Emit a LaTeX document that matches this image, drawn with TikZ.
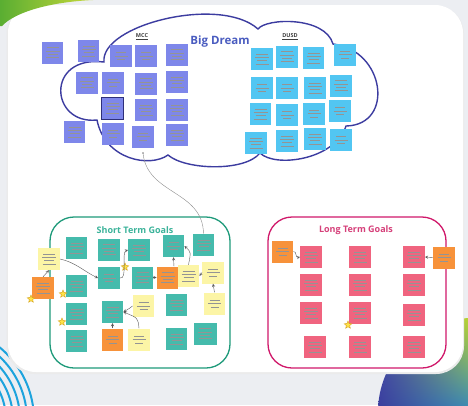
\documentclass[tikz,border=0pt]{standalone}
\usepackage{fontspec}
\setmainfont{Open Sans}
\usetikzlibrary{shapes.geometric,arrows,shadings}

\definecolor{bggray}{HTML}{ECEEF2}
\definecolor{mccblue}{HTML}{7E87EA}
\definecolor{mccdark}{HTML}{2E2F7A}
\definecolor{dusdblue}{HTML}{52C6F2}
\definecolor{cloudline}{HTML}{3C3CA0}
\definecolor{dreamblue}{HTML}{4A5CC0}
\definecolor{tealnote}{HTML}{45BBAC}
\definecolor{tealline}{HTML}{1E9A7A}
\definecolor{tealtitle}{HTML}{3BB39A}
\definecolor{orangenote}{HTML}{F7923A}
\definecolor{yellownote}{HTML}{FCF5A6}
\definecolor{pinknote}{HTML}{F0647F}
\definecolor{magline}{HTML}{D0186A}
\definecolor{magtitle}{HTML}{D6407A}
\definecolor{stargold}{HTML}{D4A017}
\definecolor{starfill}{HTML}{FFE34A}
\definecolor{blobindigo}{HTML}{3B3E9E}
\definecolor{blobblue}{HTML}{4650AE}
\definecolor{blobteal}{HTML}{3E8CB0}
\definecolor{blobgreen}{HTML}{B8D432}
\definecolor{arcblue}{HTML}{1DA3DD}
\definecolor{leafgreen}{HTML}{5AAE32}
\definecolor{leafyellow}{HTML}{C6D83A}

% blurred writing on the sticky notes
\newcommand\scribA{\rule{12pt}{.4pt}\\\rule{14pt}{.4pt}\\\rule{10pt}{.4pt}\\\rule{13pt}{.4pt}}
\newcommand\scribB{\rule{10pt}{.5pt}\\\rule{13pt}{.5pt}\\\rule{8pt}{.5pt}}

\tikzset{
  note/.style={minimum width=21.5pt, minimum height=22pt, inner sep=0pt,
    align=center, text=black!42, font=\fontsize{2.4}{3.3}\selectfont},
  mcc/.style={note, fill=mccblue},
  dusd/.style={note, fill=dusdblue},
  tnote/.style={note, fill=tealnote},
  onote/.style={note, fill=orangenote},
  ynote/.style={note, fill=yellownote},
  pnote/.style={note, fill=pinknote},
  goldstar/.style={star, star points=5, star point ratio=2.3, minimum size=8pt,
    inner sep=0pt, fill=starfill, draw=stargold, line width=.4pt},
  link/.style={->, >=stealth, draw=black!65, line width=.4pt},
  goalbox/.style={rounded corners=24pt, line width=1.3pt},
  title/.style={font=\fontsize{9}{9}\selectfont\bfseries}
}

\begin{document}
\begin{tikzpicture}[x=1pt, y=-1pt]
  \useasboundingbox (0,0) rectangle (468,405);
  \fill[bggray] (0,0) rectangle (468,405);

  % corner decorations
  \begin{scope}
    \clip (472,412) circle (94);
    \shade[upper left=blobblue, lower left=blobindigo, upper right=blobgreen,
      lower right=blobteal] (378,318) rectangle (468,405);
  \end{scope}
  \begin{scope}
    \clip (0,0) rectangle (468,405);
    \foreach \r in {94,87,80,73,66}
      \draw[arcblue, line width=2pt] (-60,420) circle (\r);
  \end{scope}

  % slide panel
  \fill[black!8, rounded corners=28pt] (6.5,6) rectangle (464,374);
  \fill[white, rounded corners=28pt] (8,5) rectangle (463,372);
  \shade[left color=leafgreen, right color=leafyellow]
    (0,0) -- (93,0) .. controls (50,2) and (15,12) .. (2,26) -- (0,26) -- cycle;

  % big dream cloud
  \draw[cloudline, line width=1.4pt]
    (104,62) .. controls (100,25) and (220,-5) .. (258,29)
    .. controls (266,18) and (325,16) .. (333,44)
    .. controls (385,50) and (395,125) .. (346,126)
    .. controls (335,160) and (275,168) .. (260,153)
    .. controls (245,172) and (185,170) .. (168,155)
    .. controls (150,168) and (105,160) .. (97,120)
    .. controls (50,125) and (45,55) .. (104,62) -- cycle;
  \node[text=dreamblue, font=\fontsize{11.5}{12}\selectfont\bfseries] (dream) at (220,42) {Big Dream};
  \node[font=\fontsize{5.5}{5.5}\selectfont\bfseries, text=black!75] (mcclab) at (142,37) {\underline{MCC}};
  \node[font=\fontsize{5.5}{5.5}\selectfont\bfseries, text=black!75] (dusdlab) at (290,37) {\underline{DUSD}};

  % MCC notes
  \node[mcc] (m1) at (52.5,52.5) {\scribA};
  \node[mcc] (m2) at (88.5,51) {\scribA};
  \node[mcc] (m3) at (74.5,132) {\scribA};
  \node[mcc] (m4) at (121,56) {\scribB};
  \node[mcc] (m5) at (146,56) {\scribB};
  \node[mcc] (m6) at (177,54.5) {\scribA};
  \node[mcc] (m7) at (87,82.5) {\scribA};
  \node[mcc] (m8) at (113,82.5) {\scribB};
  \node[mcc] (m9) at (146,83.5) {\scribA};
  \node[mcc] (m10) at (177,82) {\scribA};
  \node[mcc, draw=mccdark, line width=.9pt] (m11) at (112.5,108) {\scribA};
  \node[mcc] (m12) at (146,110) {\scribA};
  \node[mcc] (m13) at (177,110) {\scribA};
  \node[mcc] (m14) at (113,133.5) {\scribB};
  \node[mcc] (m15) at (143,136.5) {\scribB};
  \node[mcc] (m16) at (177,135) {\scribA};

  % DUSD notes
  \node[dusd] (d1) at (262,59) {\scribA};
  \node[dusd] (d2) at (287,56.5) {\scribA};
  \node[dusd] (d3) at (313.5,58) {\scribA};
  \node[dusd] (d4) at (345,54.5) {\scribB};
  \node[dusd] (d5) at (262,88) {\scribB};
  \node[dusd] (d6) at (287,88) {\scribB};
  \node[dusd] (d7) at (315,88) {\scribA};
  \node[dusd] (d8) at (341,85.5) {\scribA};
  \node[dusd] (d9) at (260.5,114) {\scribA};
  \node[dusd] (d10) at (287,115) {\scribB};
  \node[dusd] (d11) at (314,113.5) {\scribB};
  \node[dusd] (d12) at (340,111) {\scribB};
  \node[dusd] (d13) at (256,143) {\scribA};
  \node[dusd] (d14) at (287,141) {\scribA};
  \node[dusd] (d15) at (315,139) {\scribA};
  \node[dusd] (d16) at (341,140) {\scribB};

  % goal boxes
  \draw[goalbox, tealline] (50,217) rectangle (230,368);
  \node[title, text=tealtitle] (shortlab) at (135,230) {Short Term Goals};
  \draw[goalbox, magline] (268,217) rectangle (446,368);
  \node[title, text=magtitle] (longlab) at (356,230) {Long Term Goals};

  % short term notes
  \node[tnote] (s1) at (76.5,248) {\scribA};
  \node[tnote] (s2) at (109,249.5) {\scribA};
  \node[tnote] (s3) at (139,250) {\scribA};
  \node[tnote] (s4) at (173.5,246) {\scribB};
  \node[tnote] (s5) at (203.5,245) {\scribA};
  \node[tnote] (s6) at (76.5,286) {\scribA};
  \node[tnote] (s7) at (109,278) {\scribB};
  \node[tnote] (s8) at (142.5,277.5) {\scribA};
  \node[onote] (o1) at (167.5,277.5) {\scribA};
  \node[ynote] (y1) at (188.5,276) {\scribA};
  \node[ynote] (y2) at (213,272.5) {\scribB};
  \node[ynote] (y0) at (49,259) {\scribA};
  \node[onote] (o0) at (43,288) {\scribA};
  \node[tnote] (s9) at (76.5,314) {\scribA};
  \node[tnote] (s10) at (112.5,312) {\scribA};
  \node[ynote] (y3) at (143.5,306) {\scribB};
  \node[tnote] (s11) at (176.5,305) {\scribA};
  \node[ynote] (y4) at (214.5,303.5) {\scribB};
  \node[tnote] (s12) at (76.5,341) {\scribA};
  \node[onote] (o2) at (112.5,339.5) {\scribB};
  \node[ynote] (y5) at (139,339.5) {\scribB};
  \node[tnote] (s13) at (176.5,339) {\scribA};
  \node[tnote, minimum width=23pt] (s14) at (205,333.5) {\scribA};

  % long term notes
  \node[pnote] (l1) at (311,257) {\scribA};
  \node[pnote] (l2) at (311,285) {\scribA};
  \node[pnote] (l3) at (311,313) {\scribA};
  \node[pnote] (l4) at (315,347) {\scribA};
  \node[pnote] (l5) at (360,257) {\scribA};
  \node[pnote] (l6) at (360,285) {\scribA};
  \node[pnote] (l7) at (360,313) {\scribA};
  \node[pnote] (l8) at (360,347) {\scribA};
  \node[pnote] (l9) at (414,257) {\scribA};
  \node[pnote] (l10) at (414,285) {\scribA};
  \node[pnote] (l11) at (414,315) {\scribA};
  \node[pnote] (l12) at (414,347) {\scribA};
  \node[onote] (lo1) at (282.5,251.5) {\scribB};
  \node[onote] (lo2) at (444,257.5) {\scribB};

  % stars
  \node[goldstar] (st1) at (31,299) {};
  \node[goldstar] (st2) at (63,294) {};
  \node[goldstar] (st3) at (62,322) {};
  \node[goldstar] (st4) at (125,267) {};
  \node[goldstar] (st5) at (348,325) {};

  % connectors
  \coordinate (cl) at (143,153);
  \fill[black!50] (cl) circle (.9);
  \draw[black!45, line width=.4pt] (cl) .. controls (147,195) and (203,190) .. (s5.north);
  \draw[link] (y0.east) .. controls (75,262) and (85,272) .. (s7.west);
  \draw[link] (o0.north) -- (y0.south);
  \draw[link] (s7.east) .. controls (128,280) and (121,252) .. (s3.west);
  \draw[link] (s8.east) -- (o1.west);
  \draw[link] (o1.60) -- (s4.south);
  \draw[link] (y1.north) .. controls (191,252) .. (s4.east);
  \draw[link] (y2.west) -- (y1.east);
  \draw[link] (y4.north) -- (y2.south);
  \draw[link] (y3.west) .. controls (130,308) .. (s10.east);
  \draw[link] (y5.north) .. controls (138,318) .. (s10.east);
  \draw[link] (o2.north) -- (s10.south);
  \draw[link] (lo1.east) .. controls (297,251) and (295,258) .. (l1.west);
  \draw[link] (lo2.west) -- (l9.east);
\end{tikzpicture}
\end{document}
